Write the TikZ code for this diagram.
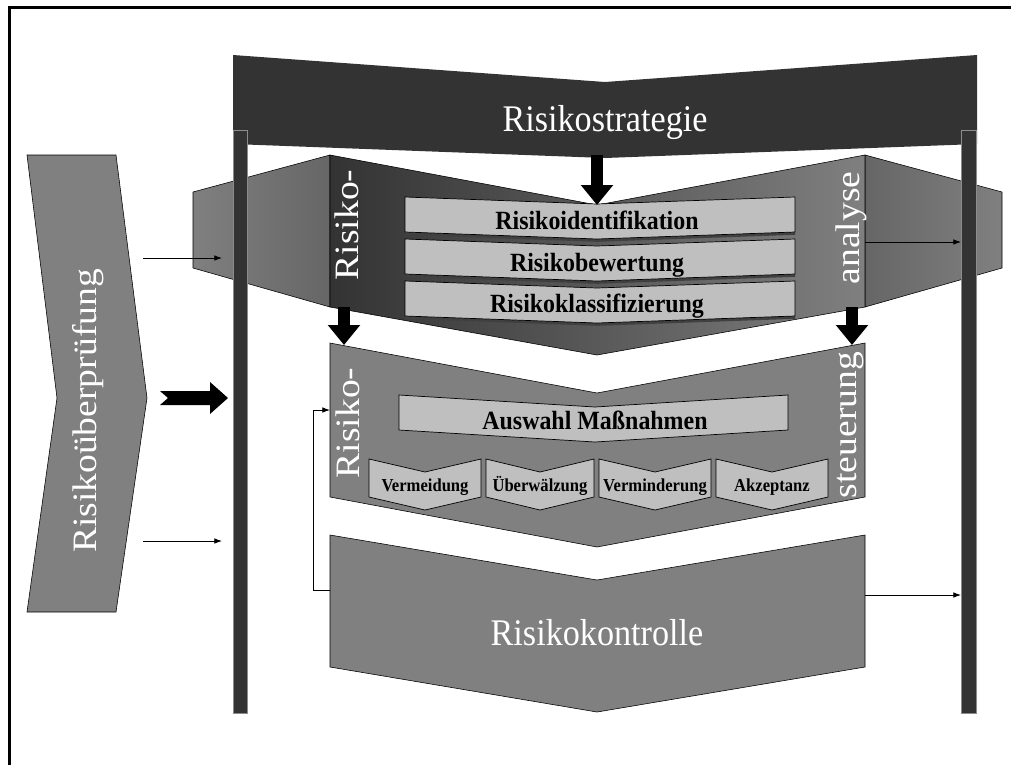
\documentclass[tikz,border=0pt]{standalone}
\usepackage{graphicx}
\usepackage{fontspec}
\setmainfont{Liberation Serif}
\usetikzlibrary{arrows.meta, shadows}

\newcommand{\hstr}[1]{\scalebox{1}[1.1]{#1}}
\newcommand{\vstr}[1]{\scalebox{1.1}[1]{#1}}

\begin{document}
\begin{tikzpicture}[x=0.025cm, y=-0.025cm,
    pillar/.style={fill=black!80, draw=black!45, line width=0.5pt},
    band/.style={fill=black!50, draw=black, line width=0.4pt},
    subbox/.style={fill=black!25, draw=black, line width=0.5pt},
    shadowbox/.style={subbox, drop shadow={shadow xshift=0pt, shadow yshift=-2pt, fill=black!75, opacity=1}},
    bigtext/.style={text=white, font=\fontsize{24.3}{28}\selectfont},
    boxtext/.style={anchor=base, font=\fontsize{17}{20}\selectfont\bfseries},
    smalltext/.style={anchor=base, font=\fontsize{11.8}{14}\selectfont\bfseries},
    thinarrow/.style={-{Latex[length=5.5pt,width=4pt]}, line width=0.6pt},
    fatarrow/.style={-{Triangle[length=0.5cm,width=0.78cm]}, line width=0.3cm},
  ]
                \useasboundingbox (0,0) rectangle (1011,765);

                % Rahmen
                \draw[line width=2.2pt] (9.5,765) -- (9.5,7.5) -- (1011,7.5);

                % Risikostrategie
                \fill[black!80] (233,55) -- (605,82) -- (977,55) -- (977,144) -- (605,158) -- (233,144) -- cycle;
                \node[bigtext, anchor=base] (strat) at (605,131) {\hstr{Risikostrategie}};

                % Risikoueberpruefung
                \filldraw[band] (27,155) -- (116,155) -- (147,398) -- (116,612) -- (27,612) -- (57,398) -- cycle;
                \node[bigtext, rotate=90] (check) at (88,411) {\vstr{Risikoüberprüfung}};

                % Seitenteile Analyse
                \shade[left color=black!50, middle color=black!10, right color=black!60, draw=black]
                    (193,192) -- (330,155) -- (330,307) -- (193,268) -- cycle;
                \shade[left color=black!60, middle color=black!10, right color=black!50, draw=black]
                    (865,155) -- (1002,192) -- (1002,268) -- (865,307) -- cycle;

                % Saeulen
                \filldraw[pillar] (233,130) rectangle (247,713);
                \filldraw[pillar] (961,130) rectangle (976,713);

                % Risikoanalyse
                \shade[left color=black!80, right color=black!50, draw=black]
                    (330,155) -- (597,205) -- (865,155) -- (865,307) -- (597,355) -- (330,307) -- cycle;
                \node[bigtext, rotate=90] (ana-l) at (347,225) {\vstr{Risiko-}};
                \node[bigtext, rotate=90] (ana-r) at (851,228) {\vstr{analyse}};

                \filldraw[shadowbox] (405,197) -- (597,204) -- (795,197) -- (795,232) -- (597,239) -- (405,232) -- cycle;
                \node[boxtext] (ident) at (597,229) {\hstr{Risikoidentifikation}};
                \filldraw[shadowbox] (405,239) -- (597,246) -- (795,239) -- (795,274) -- (597,281) -- (405,274) -- cycle;
                \node[boxtext] (bew) at (597,271) {\hstr{Risikobewertung}};
                \filldraw[shadowbox] (405,281) -- (597,288) -- (795,281) -- (795,316) -- (597,323) -- (405,316) -- cycle;
                \node[boxtext] (klass) at (597,312) {\hstr{Risikoklassifizierung}};

                % Pfeile nach unten
                \coordinate (s-top) at (597,155);
                \coordinate (s-bot) at (597,205);
                \draw[fatarrow] (s-top) -- (s-bot);
                \coordinate (al-top) at (344,307);
                \coordinate (al-bot) at (344,345);
                \draw[fatarrow] (al-top) -- (al-bot);
                \coordinate (ar-top) at (852,307);
                \coordinate (ar-bot) at (852,345);
                \draw[fatarrow] (ar-top) -- (ar-bot);

                % Risikosteuerung
                \filldraw[band] (330,343) -- (597,393) -- (865,343) -- (865,497) -- (597,547) -- (330,497) -- cycle;
                \node[bigtext, rotate=90] (st-l) at (348,423) {\vstr{Risiko-}};
                \node[bigtext, rotate=90] (st-r) at (851,425) {\vstr{steuerung}};

                \filldraw[subbox] (399,395) -- (595,407) -- (788,395) -- (788,430) -- (595,442) -- (399,430) -- cycle;
                \node[boxtext] (wahl) at (595,429) {\hstr{Auswahl Maßnahmen}};

                \filldraw[subbox] (369,459) -- (425,472) -- (481,459) -- (481,497) -- (425,510) -- (369,497) -- cycle;
                \node[smalltext] (verm) at (425,491) {\hstr{Vermeidung}};
                \filldraw[subbox] (486,459) -- (540,472) -- (594,459) -- (594,497) -- (540,510) -- (486,497) -- cycle;
                \node[smalltext] (ueber) at (540,491) {\hstr{Überwälzung}};
                \filldraw[subbox] (599,459) -- (655,472) -- (711,459) -- (711,497) -- (655,510) -- (599,497) -- cycle;
                \node[smalltext] (vmin) at (655,491) {\hstr{Verminderung}};
                \filldraw[subbox] (716,459) -- (772,472) -- (828,459) -- (828,497) -- (772,510) -- (716,497) -- cycle;
                \node[smalltext] (akz) at (772,491) {\hstr{Akzeptanz}};

                % Risikokontrolle
                \filldraw[band] (330,535) -- (597,580) -- (865,535) -- (865,667) -- (597,712) -- (330,667) -- cycle;
                \node[bigtext, anchor=base] (ctrl) at (597,645) {\hstr{Risikokontrolle}};

                % duenne Pfeile
                \coordinate (chk-a) at (143,258);
                \coordinate (pl-a) at (222,258);
                \draw[thinarrow] (chk-a) -- (pl-a);
                \coordinate (chk-b) at (143,541);
                \coordinate (pl-b) at (222,541);
                \draw[thinarrow] (chk-b) -- (pl-b);
                \coordinate (ana-out) at (865,242);
                \coordinate (pr-a) at (961,242);
                \draw[thinarrow] (ana-out) -- (pr-a);
                \coordinate (ctrl-out) at (865,595);
                \coordinate (pr-b) at (961,595);
                \draw[thinarrow] (ctrl-out) -- (pr-b);
                \coordinate (fb-out) at (330,590);
                \coordinate (fb-in) at (330,410);
                \draw[thinarrow] (fb-out) -- ++(-17,0) |- (fb-in);

                % dicker Pfeil links
                \fill[black] (160,391) -- (210,391) -- (210,382) -- (228,398) -- (210,414) -- (210,405) -- (160,405) -- (168,398) -- cycle;
\end{tikzpicture}
\end{document}
